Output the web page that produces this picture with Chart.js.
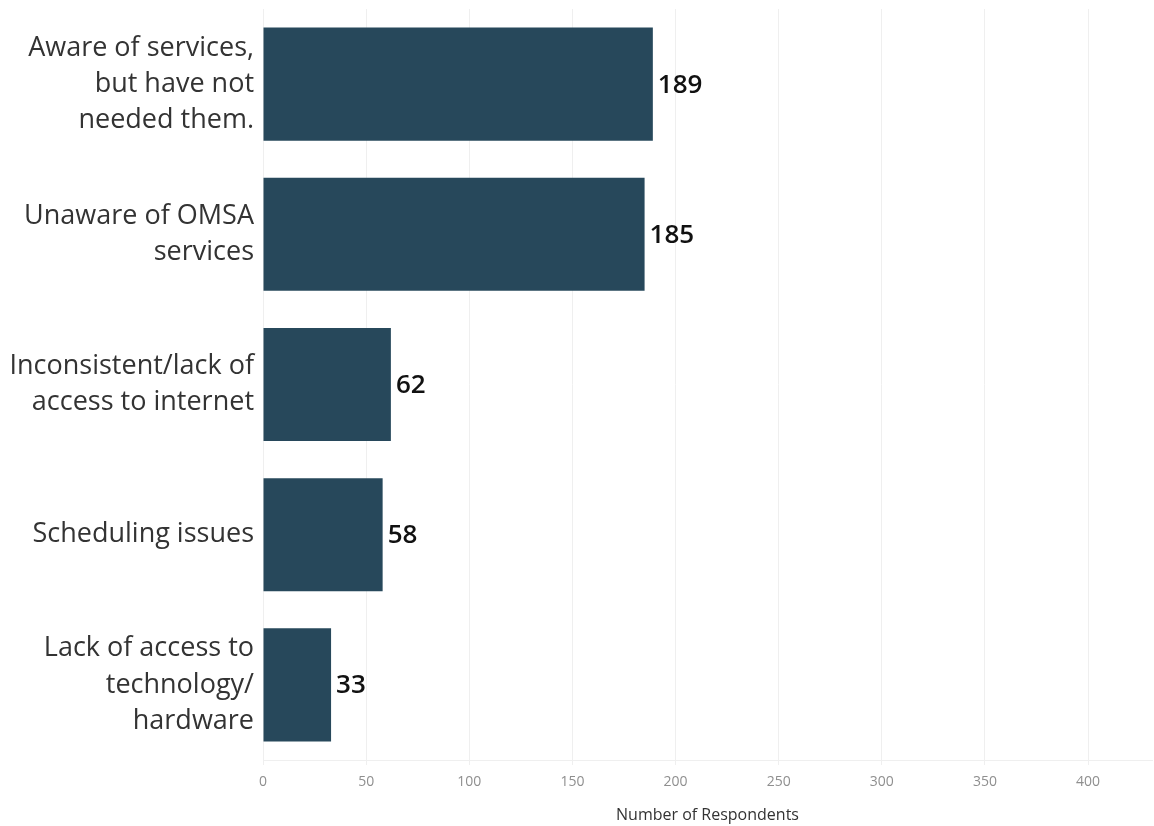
<!DOCTYPE html>
<html>
<head>
<meta charset="utf-8">
<script src="https://cdn.jsdelivr.net/npm/chart.js@4/dist/chart.umd.min.js"></script>
<style>
  body { margin: 0; background: #fff; }
  #wrap { width: 1154px; height: 826px; position: relative; }
</style>
</head>
<body>
<div id="wrap"><canvas id="reasonsChart"></canvas></div>
<script>
var categories = [
  ['Aware of services,', 'but have not', 'needed them.'],
  ['Unaware of OMSA', 'services'],
  ['Inconsistent/lack of', 'access to internet'],
  'Scheduling issues',
  ['Lack of access to', 'technology/', 'hardware']
];
var respondents = [189, 185, 62, 58, 33];
var xTicks = [0, 50, 100, 150, 200, 250, 300, 350, 400];

// writes the count just past the end of each bar
var barValueLabels = {
  id: 'barValueLabels',
  afterDatasetsDraw: function(chart) {
    var ctx = chart.ctx;
    var meta = chart.getDatasetMeta(0);
    ctx.save();
    ctx.font = '600 26px "Open Sans"';
    ctx.fillStyle = '#111';
    ctx.textAlign = 'left';
    ctx.textBaseline = 'middle';
    meta.data.forEach(function(bar, i) {
      ctx.fillText(respondents[i], bar.x + 5, bar.y + 1);
    });
    ctx.restore();
  }
};

function createChartReasons()
{
    var ctx = document.getElementById('reasonsChart').getContext('2d');
    new Chart(ctx, {
      type: 'bar',
      data: {
        labels: categories,
        datasets: [{
          data: respondents,
          backgroundColor: '#27485b',
          barPercentage: 0.753,
          categoryPercentage: 1
        }]
      },
      options: {
        indexAxis: 'y',
        maintainAspectRatio: false,
        responsive: true,
        animation: false,
        layout: { padding: { top: 9, right: 2, left: 0, bottom: 0 } },
        plugins: {
          legend: { display: false },
          tooltip: { enabled: false }
        },
        scales: {
          x: {
            min: 0,
            max: 431,
            afterBuildTicks: function(scale) {
              scale.ticks = xTicks.map(function(v) { return { value: v }; });
            },
            grid: { color: '#efefef', tickLength: 5 },
            border: { color: '#efefef' },
            ticks: {
              padding: 9,
              color: '#8f8f8f',
              font: { family: '"Open Sans"', size: 14 }
            },
            title: {
              display: true,
              text: 'Number of Respondents',
              color: '#333',
              font: { family: '"Open Sans"', size: 16 },
              padding: { top: 8, bottom: 1 }
            },
            afterFit: function(scale) { scale.height = 66; }
          },
          y: {
            grid: { display: false },
            border: { color: '#efefef' },
            ticks: {
              padding: 1,
              color: '#333',
              font: { family: '"Open Sans"', size: 27, lineHeight: 1.34 }
            },
            afterFit: function(scale) {
              scale.width = 263;
              scale.paddingTop = 0;
              scale.paddingBottom = 0;
            }
          }
        }
      },
      plugins: [barValueLabels]
    });
}

createChartReasons();
</script>
</body>
</html>
